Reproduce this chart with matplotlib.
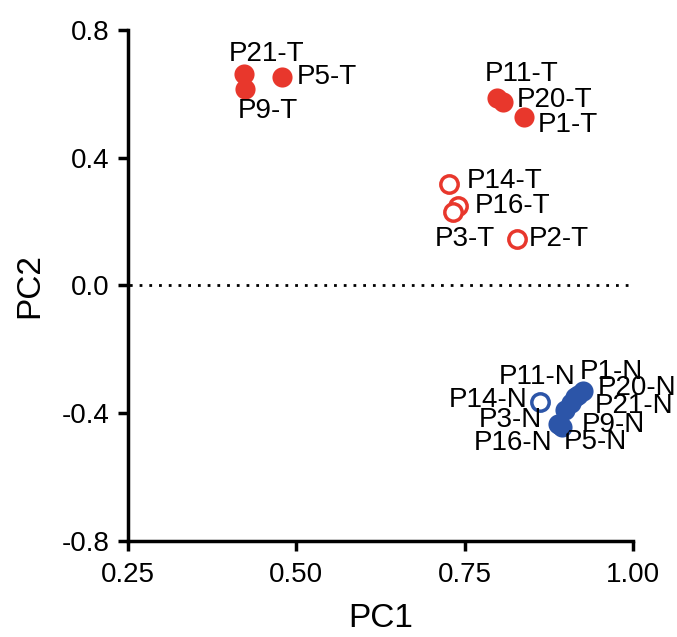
import matplotlib
matplotlib.use("Agg")
import matplotlib.pyplot as plt

plt.rcParams['font.family'] = ['Liberation Sans', 'DejaVu Sans']
plt.rcParams['axes.unicode_minus'] = False

# tumour samples
t_names = ["P21-T", "P9-T", "P5-T", "P11-T", "P20-T", "P1-T", "P14-T", "P16-T", "P3-T", "P2-T"]
t_pc1 = [0.423, 0.424, 0.479, 0.798, 0.807, 0.838, 0.727, 0.740, 0.733, 0.828]
t_pc2 = [0.663, 0.615, 0.652, 0.586, 0.574, 0.527, 0.316, 0.248, 0.229, 0.144]
t_open = [False, False, False, False, False, False, True, True, True, True]

# normal samples
n_names = ["P14-N", "P11-N", "P1-N", "P20-N", "P21-N", "P9-N", "P5-N", "P16-N", "P3-N"]
n_pc1 = [0.862, 0.914, 0.926, 0.919, 0.908, 0.899, 0.895, 0.889, 0.892]
n_pc2 = [-0.364, -0.351, -0.332, -0.342, -0.367, -0.389, -0.445, -0.433, -0.436]
n_open = [True, False, False, False, False, False, False, False, False]

# label offsets in pixels (dx, dy, ha)
lab = {
    "P21-T": (22, 20, "center"), "P9-T": (23, -22, "center"), "P5-T": (15, 0, "left"),
    "P11-T": (25, 24, "center"), "P20-T": (14, 2, "left"), "P1-T": (14, -8, "left"),
    "P14-T": (18, 3, "left"), "P16-T": (17, 0, "left"), "P3-T": (12, -27, "center"),
    "P2-T": (12, 0, "left"),
    "P14-N": (-13, 2, "right"), "P11-N": (0, 20, "right"), "P1-N": (-3, 19, "left"),
    "P20-N": (19, 7, "left"), "P21-N": (24, -3, "left"), "P9-N": (17, -15, "left"),
    "P5-N": (1, -15, "left"), "P16-N": (-6, -19, "right"), "P3-N": (-18, 5, "right"),
}

red = "#e8372c"
blue = "#2c55a8"

fig = plt.figure(figsize=(6.77, 6.37), dpi=100)
ax = fig.add_axes([0.189, 0.151, 0.746, 0.802])

def draw(names, xs, ys, opens, col):
    for nm, x, y, o in zip(names, xs, ys, opens):
        if o:
            ax.plot(x, y, 'o', ms=12.5, mfc='white', mec=col, mew=2.5, zorder=3)
        else:
            ax.plot(x, y, 'o', ms=14.5, mfc=col, mec=col, mew=0, zorder=3)
        dx, dy, ha = lab[nm]
        ax.annotate(nm, (x, y), xytext=(dx, dy), textcoords='offset pixels',
                    ha=ha, va='center', fontsize=20, annotation_clip=False)

draw(t_names, t_pc1, t_pc2, t_open, red)
draw(n_names, n_pc1, n_pc2, n_open, blue)

ax.axhline(0, color='black', ls=(3, (1, 2.5)), lw=2, zorder=1)

ax.set_xlim(0.25, 1.0)
ax.set_ylim(-0.8, 0.8)
ax.set_xticks([0.25, 0.50, 0.75, 1.00])
ax.set_xticklabels(["0.25", "0.50", "0.75", "1.00"])
ax.set_yticks([-0.8, -0.4, 0.0, 0.4, 0.8])
ax.set_yticklabels(["-0.8", "-0.4", "0.0", "0.4", "0.8"])
ax.spines['top'].set_visible(False)
ax.spines['right'].set_visible(False)
for s in ['left', 'bottom']:
    ax.spines[s].set_linewidth(2.5)
ax.tick_params(direction='out', length=7, width=2.5, labelsize=20, pad=6)
ax.tick_params(axis='x', pad=8)
ax.set_xlabel("PC1", fontsize=24, labelpad=11)
ax.set_ylabel("PC2", fontsize=24, labelpad=12)

fig.savefig("out.png", dpi=100)
